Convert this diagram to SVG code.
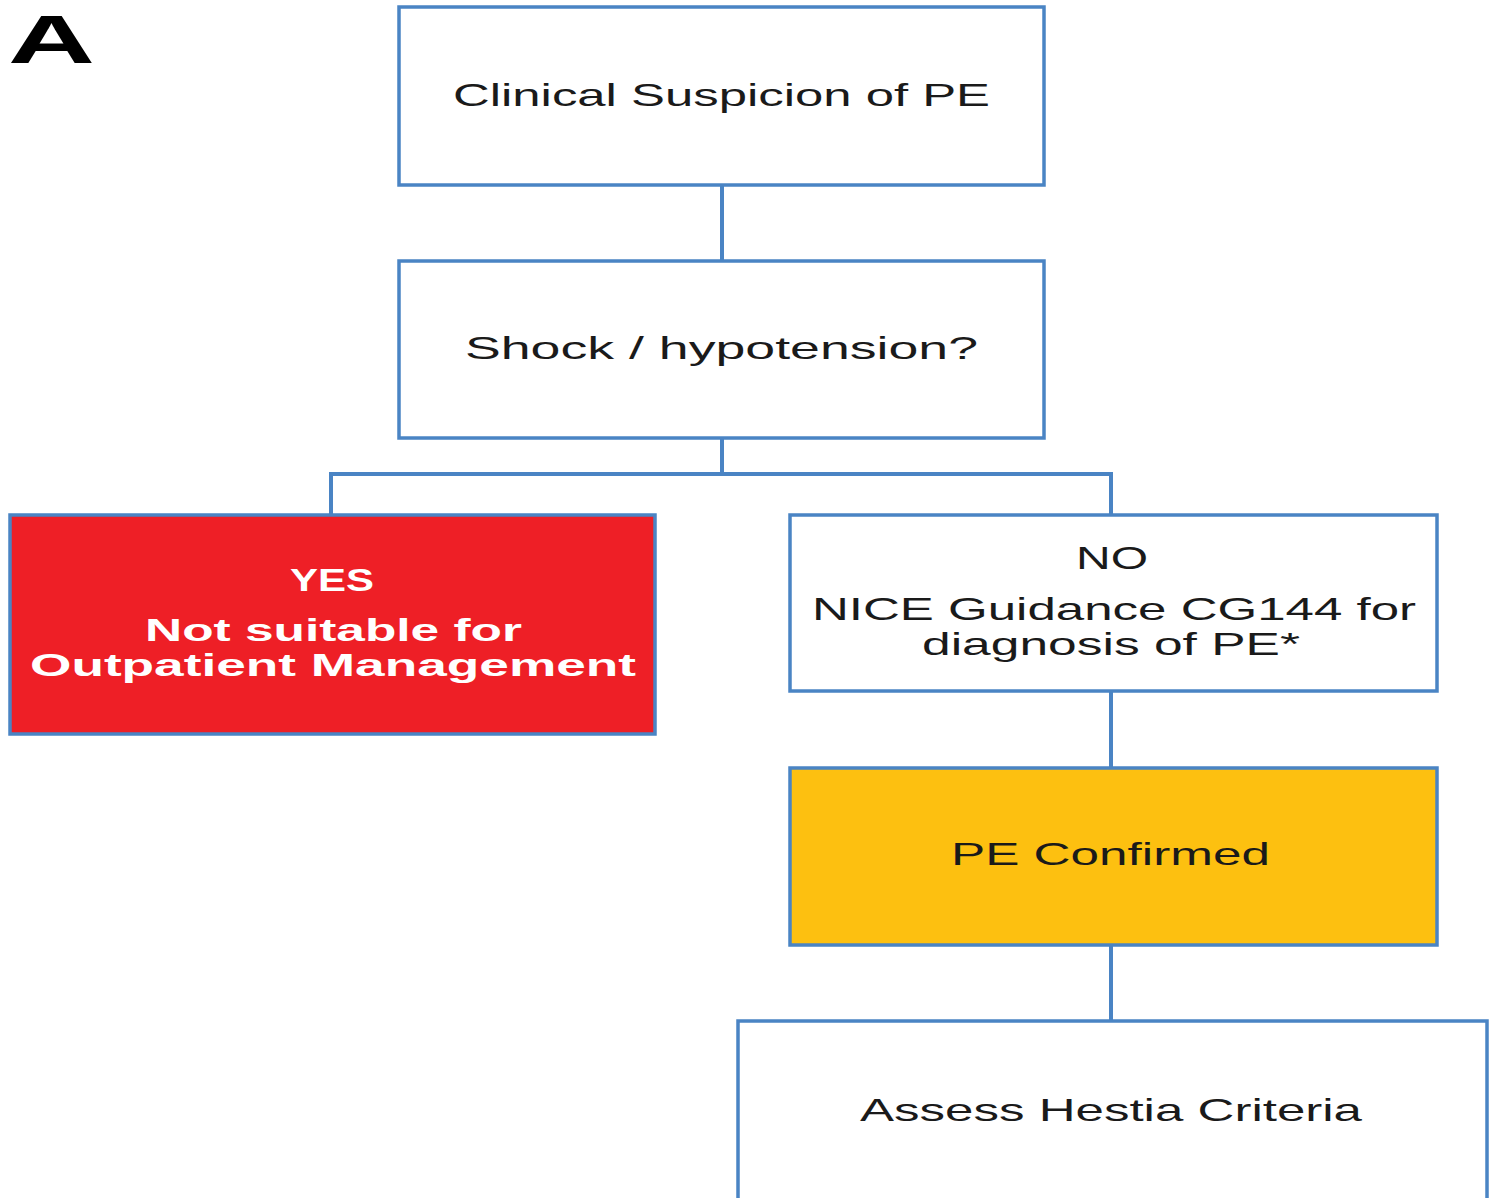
<svg xmlns="http://www.w3.org/2000/svg" width="1490" height="1198" viewBox="0 0 1490 1198">
<style>
.box{stroke:#4a84c4;stroke-width:3.5}
.w{fill:#ffffff}
.r{fill:#ee1f26}
.y{fill:#fdc010}
.t{font-family:"Liberation Sans",Arial,sans-serif;font-size:32px;fill:#1a1a1a;text-anchor:start}
.tw{fill:#ffffff;font-weight:bold}
.c{fill:none;stroke:#4a84c4;stroke-width:4}
</style>
<rect width="1490" height="1198" fill="#ffffff"/>
<text x="8" y="63" font-family="Liberation Sans, Arial, sans-serif" font-weight="bold" font-size="68" textLength="87" lengthAdjust="spacingAndGlyphs" fill="#000">A</text>
<g id="connectors">
<path class="c" d="M722 185V260"/>
<path class="c" d="M722 438V474H331V514M722 474H1111V514"/>
<path class="c" d="M1111 691V767"/>
<path class="c" d="M1111 945V1020"/>
</g>
<g id="n1"><rect class="box w" x="399" y="7" width="645" height="178"/>
<text class="t" x="453" y="106" textLength="537" lengthAdjust="spacingAndGlyphs">Clinical Suspicion of PE</text></g>
<g id="n2"><rect class="box w" x="399" y="261" width="645" height="177"/>
<text class="t" x="465" y="359" textLength="513" lengthAdjust="spacingAndGlyphs">Shock / hypotension?</text></g>
<g id="n3"><rect class="box r" x="10" y="515" width="645" height="219"/>
<text class="t tw" x="290" y="591" textLength="84" lengthAdjust="spacingAndGlyphs">YES</text>
<text class="t tw" x="145" y="641" textLength="377" lengthAdjust="spacingAndGlyphs">Not suitable for</text>
<text class="t tw" x="30" y="676" textLength="606" lengthAdjust="spacingAndGlyphs">Outpatient Management</text></g>
<g id="n4"><rect class="box w" x="790" y="515" width="647" height="176"/>
<text class="t" x="1076" y="569" textLength="72" lengthAdjust="spacingAndGlyphs">NO</text>
<text class="t" x="812" y="620" textLength="604" lengthAdjust="spacingAndGlyphs">NICE Guidance CG144 for</text>
<text class="t" x="922" y="655" textLength="378" lengthAdjust="spacingAndGlyphs">diagnosis of PE*</text></g>
<g id="n5"><rect class="box y" x="790" y="768" width="647" height="177"/>
<text class="t" x="951" y="865" textLength="319" lengthAdjust="spacingAndGlyphs">PE Confirmed</text></g>
<g id="n6"><rect class="box w" x="738" y="1021" width="749" height="200"/>
<text class="t" x="860" y="1121" textLength="502" lengthAdjust="spacingAndGlyphs">Assess Hestia Criteria</text></g>
</svg>
